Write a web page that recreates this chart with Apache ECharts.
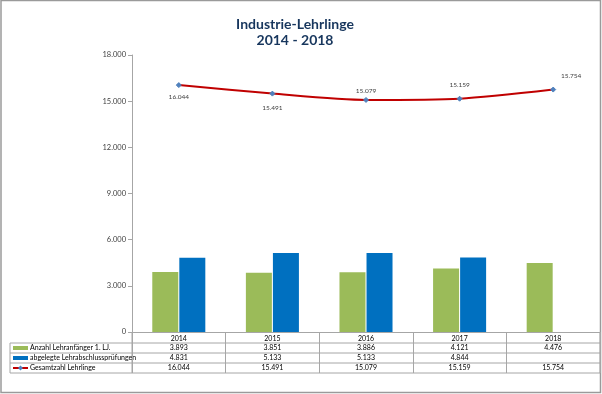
<!DOCTYPE html>
<html><head><meta charset="utf-8">
<script src="https://cdn.jsdelivr.net/npm/echarts@6/dist/echarts.min.js"></script>
<style>html,body{margin:0;padding:0;background:#fff}#c{width:602px;height:394px}</style>
</head><body><div id="c"></div>
<script>
const categories = ['2014', '2015', '2016', '2017', '2018'];
const anfaenger = [3893, 3851, 3886, 4121, 4476];
const pruefungen = [4831, 5133, 5133, 4844, null];
const gesamt = [16044, 15491, 15079, 15159, 15754];
const seriesNames = ['Anzahl Lehranfänger 1. LJ.', 'abgelegte Lehrabschlussprüfungen', 'Gesamtzahl Lehrlinge'];
const titleText = 'Industrie-Lehrlinge\n2014 - 2018';

const FONT = 'Lato';
const colors = ['#9bbb59', '#0070c0', '#c00000'];
const fmt = v => (v === null || v === undefined) ? '' : String(v).replace(/\B(?=(\d{3})+(?!\d))/g, '.');

// label placement for line points (style only)
const lblPos = [
  {position: 'bottom', distance: 5},
  {position: 'bottom', distance: 8},
  {position: 'top', distance: 3},
  {position: 'top', distance: 7},
  {position: 'top', distance: 7, offset: [18, 0]}
];

const chart = echarts.init(document.getElementById('c'), null, {renderer: 'canvas'});
const GL = 132, GR = 2, GT = 55, GB = 62;
const option = {
  backgroundColor: '#fff',
  animation: false,
  title: {
    text: titleText, left: 290, top: 11, textAlign: 'center',
    textStyle: {fontFamily: FONT, fontSize: 14, fontWeight: 'bold', color: '#17365d', lineHeight: 16}
  },
  grid: {left: GL, right: GR, top: GT, bottom: GB},
  xAxis: {
    type: 'category', data: categories,
    axisLine: {lineStyle: {color: '#a6a6a6', width: 1}},
    axisTick: {show: true, length: 41, lineStyle: {color: '#a6a6a6'}},
    axisLabel: {fontFamily: FONT, fontSize: 7, color: '#000', margin: 3}
  },
  yAxis: {
    type: 'value', min: 0, max: 18000, interval: 3000,
    axisLine: {show: true, lineStyle: {color: '#a6a6a6'}},
    axisTick: {show: true, length: 4, lineStyle: {color: '#a6a6a6'}},
    splitLine: {show: false},
    axisLabel: {fontFamily: FONT, fontSize: 7.5, color: '#404040', margin: 6, formatter: v => fmt(v)}
  },
  series: [
    {name: seriesNames[0], type: 'bar', data: anfaenger, barWidth: 26, barGap: '4%',
     itemStyle: {color: colors[0]}},
    {name: seriesNames[1], type: 'bar', data: pruefungen, barWidth: 26, barGap: '4%',
     itemStyle: {color: colors[1]}},
    {name: seriesNames[2], type: 'line', smooth: 0.25,
     data: gesamt.map((v, i) => ({value: v, label: Object.assign({show: true}, lblPos[i])})),
     lineStyle: {color: colors[2], width: 2},
     symbol: 'diamond', symbolSize: 5,
     itemStyle: {color: '#4f81bd', borderColor: '#4f81bd'},
     label: {fontFamily: FONT, fontSize: 6.5, color: '#404040', formatter: p => fmt(p.value)}
    }
  ]
};
chart.setOption(option);

// data table built from the same arrays, positioned via the axes
const g = [];
const line = (x1, y1, x2, y2) => g.push({type: 'line', shape: {x1, y1, x2, y2}, style: {stroke: '#a6a6a6', lineWidth: 1}, silent: true});
const yAxisZero = chart.convertToPixel({yAxisIndex: 0}, 0);
const xLeft = GL, xRight = 602 - GR;
const rowTop = [yAxisZero + 11, yAxisZero + 21, yAxisZero + 31];
const rowH = 10;
const tableLeft = 10;
rowTop.forEach(y => line(tableLeft, y, xRight, y));
line(tableLeft, rowTop[2] + rowH, xRight, rowTop[2] + rowH);
line(tableLeft, rowTop[0], tableLeft, rowTop[2] + rowH);
line(xLeft, yAxisZero, xLeft, rowTop[2] + rowH);
line(xRight, yAxisZero, xRight, rowTop[2] + rowH);
const rows = [anfaenger, pruefungen, gesamt];
rows.forEach((arr, r) => {
  const cy = rowTop[r] + rowH / 2;
  if (r < 2) {
    g.push({type: 'line', shape: {x1: 13, y1: cy, x2: 28, y2: cy}, style: {stroke: colors[r], lineWidth: 4}, silent: true});
  } else {
    g.push({type: 'line', shape: {x1: 13, y1: cy, x2: 28, y2: cy}, style: {stroke: colors[2], lineWidth: 2}, silent: true});
    g.push({type: 'polygon', shape: {points: [[20.5, cy - 2.5], [23, cy], [20.5, cy + 2.5], [18, cy]]}, style: {fill: '#4f81bd'}, silent: true});
  }
  g.push({type: 'text', x: 30, y: cy, style: {text: seriesNames[r], fontFamily: FONT, fontSize: 7, fill: '#000', verticalAlign: 'middle', align: 'left'}, silent: true});
  arr.forEach((v, i) => {
    const cx = chart.convertToPixel({xAxisIndex: 0}, categories[i]);
    g.push({type: 'text', x: cx, y: cy, style: {text: fmt(v), fontFamily: FONT, fontSize: 7, fill: '#000', align: 'center', verticalAlign: 'middle'}, silent: true});
  });
});
g.push({type: 'rect', shape: {x: 1, y: 0.5, width: 599.5, height: 392}, style: {fill: null, stroke: '#9a9a9a', lineWidth: 1.5}, silent: true});
chart.setOption({graphic: g});
</script>
</body></html>
